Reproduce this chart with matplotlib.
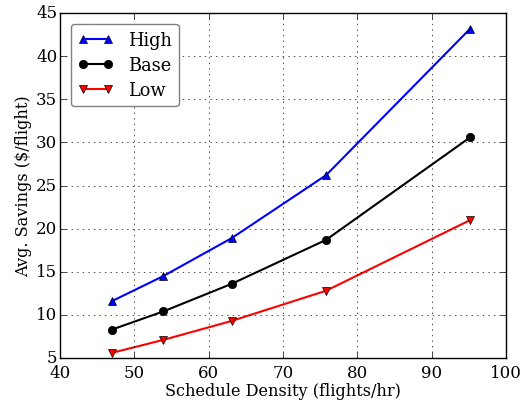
import numpy as np
import matplotlib
matplotlib.use('Agg')
import matplotlib.pyplot as plt

plt.style.use('classic')
plt.rcParams['font.family'] = 'DejaVu Serif'

# data
density = [47.0, 53.9, 63.1, 75.8, 95.2]
high = [11.6, 14.5, 18.9, 26.2, 43.2]
base = [8.3, 10.4, 13.6, 18.7, 30.6]
low = [5.6, 7.1, 9.3, 12.8, 21.0]

fig = plt.figure(figsize=(5.27, 4.02), dpi=100, facecolor='white')
ax = fig.add_axes([60/527., 1 - 359/402., 446/527., 345/402.])

ax.plot(density, high, 'b-^', lw=1.5, ms=6, label='High')
ax.plot(density, base, 'k-o', lw=1.5, ms=6, label='Base')
ax.plot(density, low, 'r-v', lw=1.5, ms=6, label='Low')

ax.set_xlim(40, 100)
ax.set_ylim(5, 45)
ax.set_xlabel('Schedule Density (flights/hr)', fontsize=11.6, labelpad=1)
ax.set_ylabel('Avg. Savings ($/flight)', fontsize=11.6, labelpad=3)
ax.tick_params(labelsize=12)
ax.tick_params(axis='y', pad=2)
ax.grid(True)
leg = ax.legend(loc='upper left', numpoints=2, fontsize=12.8, fancybox=True,
                borderaxespad=0.6, labelspacing=0.4)
leg.get_frame().set_edgecolor('0.5')

fig.savefig('out.png', dpi=100, facecolor='white')
